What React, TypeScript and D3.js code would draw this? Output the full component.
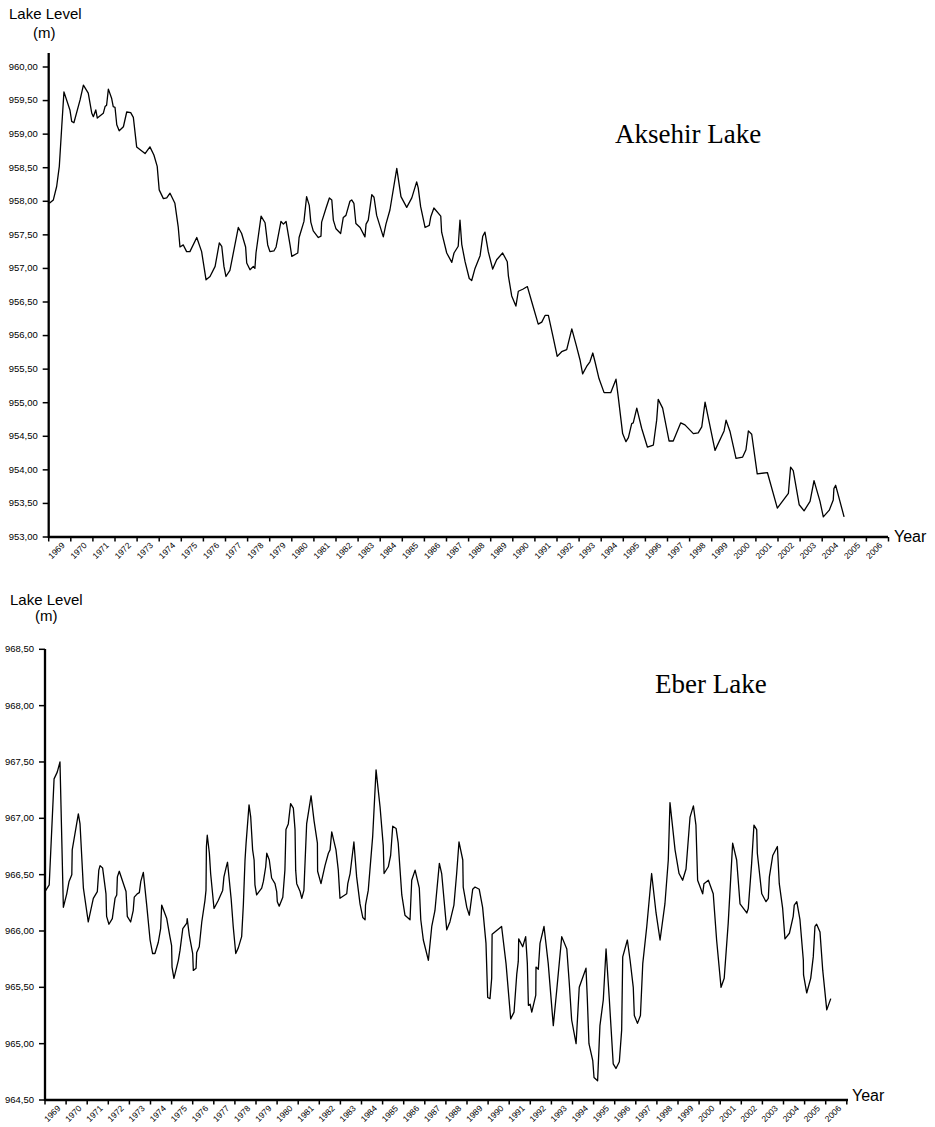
import React from 'react';
import * as d3 from 'd3';

const yearLabels = ["1969","1970","1971","1972","1973","1974","1975","1976","1977","1978","1979","1980","1981","1982","1983","1984","1985","1986","1987","1988","1989","1990","1991","1992","1993","1994","1995","1996","1997","1998","1999","2000","2001","2002","2003","2004","2005","2006"];

const akTicks = [953, 953.5, 954, 954.5, 955, 955.5, 956, 956.5, 957, 957.5, 958, 958.5, 959, 959.5, 960];
const ebTicks = [964.5, 965, 965.5, 966, 966.5, 967, 967.5, 968, 968.5];

// Aksehir Lake: decimal year / level (m)
const akYear = [1969.03,1969.21,1969.36,1969.48,1969.59,1969.69,1969.96,1970.04,1970.14,1970.42,1970.57,1970.79,1970.95,1971.02,1971.13,1971.20,1971.47,1971.55,1971.62,1971.70,1971.85,1971.92,1972.00,1972.08,1972.19,1972.38,1972.53,1972.71,1972.83,1972.98,1973.36,1973.58,1973.76,1973.91,1974.00,1974.19,1974.34,1974.49,1974.71,1974.86,1974.94,1975.09,1975.24,1975.39,1975.70,1975.92,1976.12,1976.30,1976.53,1976.72,1976.83,1976.93,1977.02,1977.20,1977.58,1977.73,1977.91,1977.96,1978.11,1978.26,1978.33,1978.38,1978.61,1978.79,1978.91,1979.01,1979.19,1979.29,1979.51,1979.62,1979.74,1979.92,1980.00,1980.27,1980.33,1980.55,1980.67,1980.79,1980.86,1980.97,1981.20,1981.32,1981.35,1981.55,1981.70,1981.81,1981.88,1982.00,1982.21,1982.33,1982.45,1982.63,1982.71,1982.81,1982.90,1983.09,1983.31,1983.36,1983.46,1983.62,1983.72,1983.84,1984.14,1984.26,1984.44,1984.75,1984.94,1985.20,1985.43,1985.65,1985.72,1985.83,1986.03,1986.22,1986.29,1986.43,1986.74,1986.78,1987.01,1987.24,1987.34,1987.53,1987.61,1987.69,1987.84,1988.03,1988.14,1988.29,1988.52,1988.64,1988.74,1988.89,1989.09,1989.27,1989.54,1989.75,1989.80,1989.95,1990.14,1990.25,1990.45,1990.66,1990.86,1991.15,1991.31,1991.46,1991.61,1991.81,1992.01,1992.21,1992.44,1992.67,1992.86,1993.04,1993.16,1993.34,1993.49,1993.62,1993.72,1993.90,1994.13,1994.43,1994.67,1994.77,1994.97,1995.12,1995.23,1995.38,1995.45,1995.61,1995.83,1996.09,1996.36,1996.51,1996.58,1996.78,1997.07,1997.26,1997.60,1997.79,1998.17,1998.39,1998.55,1998.70,1999.15,1999.56,1999.65,1999.83,2000.10,2000.40,2000.55,2000.66,2000.81,2001.06,2001.52,2001.97,2002.47,2002.57,2002.69,2002.96,2003.18,2003.45,2003.63,2003.90,2004.05,2004.32,2004.50,2004.53,2004.61,2004.99];
const akLevel = [957.97,958.02,958.22,958.52,959.11,959.63,959.36,959.19,959.17,959.51,959.73,959.61,959.31,959.26,959.36,959.24,959.31,959.41,959.43,959.67,959.53,959.41,959.40,959.14,959.05,959.11,959.33,959.32,959.25,958.81,958.71,958.81,958.69,958.52,958.17,958.04,958.05,958.12,957.97,957.62,957.32,957.35,957.25,957.25,957.46,957.25,956.83,956.88,957.03,957.38,957.33,957.03,956.88,956.97,957.61,957.52,957.32,957.08,956.98,957.03,957.00,957.23,957.78,957.68,957.35,957.25,957.26,957.32,957.70,957.66,957.70,957.35,957.18,957.23,957.46,957.70,958.07,957.94,957.69,957.56,957.46,957.48,957.69,957.90,958.05,958.02,957.72,957.59,957.52,957.76,957.79,958.00,958.02,957.97,957.67,957.61,957.47,957.66,957.72,958.10,958.06,957.79,957.47,957.66,957.87,958.49,958.07,957.91,958.05,958.29,958.20,957.92,957.61,957.64,957.77,957.90,957.78,957.54,957.23,957.09,957.23,957.33,957.72,957.36,957.10,956.85,956.82,957.00,957.19,957.48,957.54,957.25,956.99,957.13,957.23,957.10,956.89,956.59,956.44,956.66,956.69,956.73,956.50,956.17,956.20,956.30,956.30,956.00,955.69,955.76,955.79,956.10,955.87,955.64,955.43,955.54,955.61,955.74,955.61,955.36,955.15,955.15,955.35,955.09,954.54,954.42,954.48,954.69,954.70,954.92,954.62,954.34,954.37,954.74,955.05,954.92,954.43,954.43,954.70,954.67,954.54,954.55,954.64,955.01,954.29,954.58,954.74,954.57,954.17,954.19,954.30,954.58,954.53,953.94,953.96,953.43,953.65,954.04,953.99,953.48,953.39,953.53,953.84,953.53,953.30,953.40,953.55,953.72,953.77,953.30];

// Eber Lake: decimal year / level (m)
const ebYear = [1969.00,1969.20,1969.43,1969.58,1969.71,1969.87,1970.03,1970.14,1970.27,1970.29,1970.58,1970.66,1970.82,1971.05,1971.29,1971.48,1971.55,1971.61,1971.73,1971.89,1971.92,1972.03,1972.19,1972.32,1972.40,1972.43,1972.52,1972.84,1972.90,1973.06,1973.18,1973.23,1973.37,1973.47,1973.54,1973.66,1973.82,1973.98,1974.10,1974.21,1974.37,1974.48,1974.53,1974.77,1974.92,1975.00,1975.02,1975.11,1975.32,1975.40,1975.53,1975.72,1975.74,1975.84,1976.00,1976.03,1976.16,1976.19,1976.31,1976.43,1976.58,1976.63,1976.65,1976.69,1976.79,1976.85,1977.01,1977.21,1977.42,1977.48,1977.58,1977.65,1977.82,1977.92,1978.04,1978.16,1978.32,1978.40,1978.48,1978.53,1978.67,1978.75,1978.84,1978.91,1978.95,1979.03,1979.27,1979.35,1979.46,1979.51,1979.63,1979.74,1979.90,1979.98,1980.01,1980.10,1980.27,1980.37,1980.42,1980.53,1980.64,1980.77,1980.85,1980.88,1980.93,1981.09,1981.17,1981.27,1981.40,1981.61,1981.75,1981.91,1981.92,1982.08,1982.27,1982.43,1982.51,1982.59,1982.79,1982.90,1982.98,1983.30,1983.35,1983.46,1983.64,1983.77,1983.93,1984.06,1984.17,1984.19,1984.32,1984.53,1984.69,1984.88,1985.03,1985.07,1985.27,1985.38,1985.48,1985.64,1985.74,1985.91,1986.06,1986.30,1986.38,1986.54,1986.74,1986.81,1986.93,1987.17,1987.33,1987.48,1987.69,1987.80,1988.04,1988.19,1988.38,1988.51,1988.62,1988.80,1988.82,1988.99,1989.11,1989.27,1989.38,1989.58,1989.74,1989.90,1989.98,1990.09,1990.17,1990.19,1990.64,1990.85,1991.07,1991.23,1991.36,1991.43,1991.45,1991.64,1991.78,1991.86,1991.91,1991.99,1992.07,1992.26,1992.27,1992.38,1992.46,1992.65,1992.85,1993.09,1993.25,1993.49,1993.73,1993.85,1993.96,1994.17,1994.32,1994.64,1994.70,1994.78,1994.96,1995.02,1995.19,1995.30,1995.46,1995.59,1995.74,1995.93,1996.06,1996.22,1996.33,1996.38,1996.60,1996.73,1996.88,1996.93,1997.08,1997.22,1997.33,1997.52,1997.75,1997.96,1998.15,1998.38,1998.54,1998.62,1998.86,1999.05,1999.22,1999.38,1999.57,1999.73,1999.85,1999.93,2000.17,2000.23,2000.44,2000.67,2000.83,2001.04,2001.19,2001.38,2001.59,2001.78,2001.94,2002.26,2002.33,2002.49,2002.60,2002.73,2002.76,2002.97,2003.17,2003.28,2003.33,2003.49,2003.71,2003.80,2003.96,2004.07,2004.28,2004.46,2004.51,2004.63,2004.78,2004.94,2004.95,2005.10,2005.29,2005.41,2005.49,2005.57,2005.73,2005.86,2006.05,2006.24];
const ebLevel = [966.35,966.41,967.35,967.41,967.50,966.21,966.33,966.44,966.50,966.72,967.04,966.95,966.38,966.08,966.29,966.35,966.54,966.58,966.56,966.33,966.13,966.06,966.11,966.29,966.32,966.48,966.53,966.35,966.13,966.08,966.18,966.30,966.33,966.34,966.44,966.52,966.23,965.92,965.80,965.80,965.90,966.02,966.23,966.11,965.95,965.87,965.68,965.58,965.74,965.83,966.02,966.07,966.11,965.96,965.80,965.65,965.67,965.81,965.86,966.08,966.27,966.36,966.75,966.85,966.69,966.51,966.20,966.27,966.36,966.48,966.56,966.61,966.29,966.04,965.80,965.85,965.95,966.23,966.63,966.78,967.12,967.01,966.72,966.63,966.41,966.32,966.38,966.44,966.57,966.69,966.63,966.47,966.42,966.35,966.26,966.22,966.30,966.54,966.90,966.95,967.13,967.09,966.90,966.54,966.42,966.35,966.29,966.36,966.95,967.20,966.98,966.78,966.53,966.42,966.58,966.69,966.72,966.88,966.72,966.54,966.29,966.33,966.42,966.51,966.79,966.48,966.24,966.12,966.10,966.23,966.36,966.84,967.43,967.10,966.76,966.51,966.57,966.67,966.93,966.91,966.78,966.32,966.14,966.10,966.45,966.54,966.38,966.10,965.92,965.74,966.04,966.18,966.60,966.51,966.01,966.08,966.23,966.51,966.79,966.63,966.39,966.21,966.14,966.37,966.39,966.37,966.21,965.89,965.41,965.40,965.58,965.97,966.04,965.71,965.22,965.28,965.62,965.73,965.93,965.86,965.95,965.71,965.34,965.35,965.28,965.43,965.68,965.66,965.89,966.04,965.71,965.16,965.47,965.95,965.84,965.53,965.21,965.00,965.50,965.67,965.41,965.00,964.85,964.70,964.67,965.16,965.39,965.84,965.41,964.82,964.78,964.84,965.12,965.77,965.92,965.74,965.50,965.25,965.18,965.25,965.71,966.04,966.51,966.16,965.92,966.24,966.63,967.14,966.72,966.51,966.45,966.55,967.01,967.11,966.94,966.45,966.33,966.42,966.45,966.33,965.92,965.50,965.58,966.07,966.78,966.63,966.24,966.16,966.20,966.60,966.94,966.90,966.69,966.33,966.26,966.29,966.48,966.67,966.75,966.42,966.20,965.93,965.98,966.13,966.23,966.26,966.10,965.74,965.61,965.45,965.58,965.77,966.04,966.06,965.99,965.65,965.30,965.40];

const SANS = '"Liberation Sans", Arial, sans-serif';
const SERIF = '"Liberation Serif", "Times New Roman", serif';
const fmt = (v: number) => d3.format('.2f')(v).replace('.', ',');

type PanelProps = {
  years: number[];
  levels: number[];
  ticks: number[];
  xRange: [number, number];
  yDomain: [number, number];
  yRange: [number, number];
  axisTop: number;
  axisRight: number;
  headX: number;
  headY: number;
  mX: number;
  mY: number;
  title: string;
  titleX: number;
  titleY: number;
  yearX: number;
  yearY: number;
};

function Panel(p: PanelProps) {
  const x = d3.scaleLinear().domain([1969, 2007]).range(p.xRange);
  const y = d3.scaleLinear().domain(p.yDomain).range(p.yRange);
  const pts = p.years.map((t, i) => [t, p.levels[i]] as [number, number]);
  const line = d3.line<[number, number]>().x(d => x(d[0])).y(d => y(d[1]));
  const x0 = p.xRange[0];
  const yBase = p.yRange[0];
  const bounds = d3.range(0, yearLabels.length + 1);
  return (
    <g>
      <text x={p.headX} y={p.headY} fontFamily={SANS} fontSize={15}>Lake Level</text>
      <text x={p.mX} y={p.mY} fontFamily={SANS} fontSize={15}>(m)</text>
      <text x={p.titleX} y={p.titleY} fontFamily={SERIF} fontSize={27}>{p.title}</text>
      <text x={p.yearX} y={p.yearY} fontFamily={SANS} fontSize={16}>Year</text>
      {p.ticks.map(v => (
        <g key={v}>
          <line x1={x0 - 6} x2={x0} y1={y(v)} y2={y(v)} stroke="#000" strokeWidth={1.5} />
          <text x={x0 - 11} y={y(v)} dy="0.35em" textAnchor="end" fontFamily={SANS} fontSize={8.3}
            textLength={29} lengthAdjust="spacingAndGlyphs">{fmt(v)}</text>
        </g>
      ))}
      {bounds.map(i => (
        <line key={'t' + i} x1={x(1969 + i)} x2={x(1969 + i)} y1={yBase} y2={yBase + 4.5} stroke="#000" strokeWidth={1.5} />
      ))}
      {yearLabels.map((lab, i) => {
        const cx = x(1969 + i + 0.5) + 5.5;
        const cy = yBase + 9;
        return (
          <text key={lab} x={cx} y={cy} textAnchor="end" fontFamily={SANS} fontSize={8.5}
            transform={`rotate(-45 ${cx} ${cy})`}>{lab}</text>
        );
      })}
      <path d={line(pts) || ''} fill="none" stroke="#000" strokeWidth={1.3} strokeLinejoin="round" />
      <line x1={x0} x2={x0} y1={p.axisTop} y2={yBase + 1} stroke="#000" strokeWidth={2.3} />
      <line x1={x0} x2={p.axisRight} y1={yBase} y2={yBase} stroke="#000" strokeWidth={2.3} />
    </g>
  );
}

export default function App() {
  return (
    <div style={{ position: 'absolute', left: 0, top: 0 }}>
      <svg width={935} height={1127} viewBox="0 0 935 1127" style={{ display: 'block', background: '#fff' }}>
        <rect width={935} height={1127} fill="#fff" />
        <Panel years={akYear} levels={akLevel} ticks={akTicks}
          xRange={[48.7, 888.5]} yDomain={[953, 960]} yRange={[537, 67]}
          axisTop={53} axisRight={888}
          headX={9} headY={19} mX={33} mY={38}
          title="Aksehir Lake" titleX={615} titleY={143}
          yearX={894} yearY={542} />
        <Panel years={ebYear} levels={ebLevel} ticks={ebTicks}
          xRange={[45, 846.8]} yDomain={[964.5, 968.5]} yRange={[1100, 649.3]}
          axisTop={649} axisRight={848}
          headX={10} headY={605} mX={35} mY={621}
          title="Eber Lake" titleX={655} titleY={693}
          yearX={852} yearY={1101} />
      </svg>
    </div>
  );
}
